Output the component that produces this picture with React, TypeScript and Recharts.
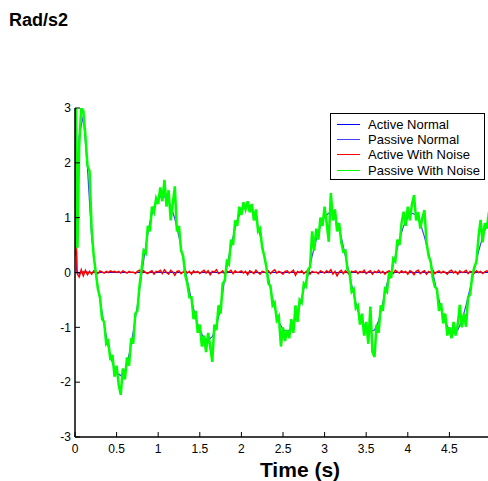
import React from 'react';
import { LineChart, Line, XAxis, YAxis, Legend } from 'recharts';

const FONT = '"Liberation Sans", Arial, Helvetica, sans-serif';

// Axis ticks
const xTicks = [0, 0.5, 1, 1.5, 2, 2.5, 3, 3.5, 4, 4.5, 5];
const xLabelTicks = [0, 0.5, 1, 1.5, 2, 2.5, 3, 3.5, 4, 4.5];
const yTicks = [-3, -2, -1, 0, 1, 2, 3];

// Series names / colours
const seriesNames = ['Active Normal', 'Passive Normal', 'Active With Noise', 'Passive With Noise'];
const seriesColors = ['#0000ff', '#4040ff', '#ff0000', '#00ff00'];

// Active Normal (time, value)
const activeNormalTime = [0, 0.02, 0.05, 0.1, 0.2, 5];
const activeNormalValues = [1.8, 0.03, -0.02, 0.01, 0, 0];

// Passive Normal, sampled every 0.05 s from t = 0
const passiveNormalStep = 0.05;
const passiveNormalValues = [
  0.3, 2.5, 2.85, 1.9, 0.65, -0.02, -0.5, -0.95, -1.35, -1.65,
  -1.83, -1.88, -1.78, -1.5, -1.08, -0.6, -0.05, 0.48, 0.92, 1.2,
  1.35, 1.4, 1.36, 1.22, 0.98, 0.65, 0.25, -0.15, -0.5, -0.82,
  -1.05, -1.2, -1.23, -1.17, -0.98, -0.65, -0.1, 0.3, 0.65, 0.95,
  1.13, 1.22, 1.22, 1.1, 0.85, 0.5, 0.1, -0.3, -0.65, -0.9,
  -1.04, -1.08, -1.02, -0.85, -0.6, -0.3, -0.05, 0.3, 0.6, 0.85,
  1.02, 1.08, 1.05, 0.9, 0.65, 0.3, -0.05, -0.4, -0.7, -0.9,
  -1.02, -1.07, -1.05, -0.88, -0.55, -0.2, -0.02, 0.3, 0.6, 0.85,
  1.0, 1.08, 1.05, 0.9, 0.65, 0.35, 0.0, -0.35, -0.65, -0.9,
  -1.05, -1.1, -1.05, -0.88, -0.6, -0.28, 0.05, 0.38, 0.65, 0.88,
  1.05,
];

// Active With Noise, sampled every 0.025 s from t = 0
const activeNoiseStep = 0.025;
const activeNoiseValues = [
  1.8, -0.02, -0.08, 0.05, -0.06, 0.04, -0.04, 0.02, -0.03, 0.03, 0.0, -0.02, 0.03, 0.01, -0.01, 0.02, 0.0, 0.03, 0.01, 0.02,
  0.0, 0.02, -0.01, 0.03, 0.01, -0.01, 0.02, 0.0, 0.01, -0.02, 0.02, 0.04, -0.01, 0.03, 0.0, -0.02, 0.01, 0.03, -0.03, 0.02,
  0.01, 0.04, -0.02, 0.05, 0.0, -0.03, 0.04, 0.01, -0.05, 0.02, 0.03, -0.02, 0.01, 0.04, -0.01, 0.02, -0.03, 0.03, 0.0, 0.02,
  -0.02, 0.01, 0.04, -0.01, 0.03, -0.04, 0.02, 0.01, 0.05, -0.02, 0.0, 0.03, -0.03, 0.02, 0.01, 0.04, -0.02, 0.03, 0.0, 0.01,
  0.03, -0.01, 0.02, -0.04, 0.03, 0.01, -0.02, 0.04, 0.0, -0.03, 0.02, 0.01, -0.01, 0.03, -0.02, 0.02, 0.05, -0.01, 0.02, 0.0,
  -0.03, 0.02, 0.03, -0.01, 0.01, 0.04, -0.05, 0.02, 0.0, 0.03, -0.02, 0.01, 0.04, -0.03, 0.02, 0.0, 0.01, -0.02, 0.03, 0.01,
  -0.01, 0.03, 0.0, 0.05, -0.03, 0.02, -0.06, 0.01, 0.04, -0.02, 0.03, 0.0, -0.04, 0.02, 0.01, 0.03, -0.02, 0.02, 0.0, 0.04,
  -0.02, 0.01, 0.03, -0.03, 0.02, 0.0, 0.04, -0.01, 0.02, -0.03, 0.01, 0.03, 0.0, -0.02, 0.04, 0.01, -0.01, 0.03, 0.0, 0.02,
  -0.03, 0.03, 0.01, -0.04, 0.02, 0.04, -0.02, 0.01, 0.03, -0.03, 0.02, 0.0, 0.04, -0.02, 0.01, 0.03, -0.01, 0.02, 0.0, -0.03,
  0.02, 0.04, -0.01, 0.02, -0.03, 0.03, 0.0, 0.01, 0.04, -0.02, 0.02, 0.01, -0.01, 0.03, 0.0, 0.02, -0.02, 0.01, 0.03, 0.0,
  0.01,
];

// Passive With Noise: a few early samples, then every 0.025 s from t = 0.05
const passiveNoiseHeadTime = [0, 0.012, 0.03];
const passiveNoiseHeadValues = [0.4, 3.0, 0.45];
const passiveNoiseStart = 0.05;
const passiveNoiseStep = 0.025;
const passiveNoiseValues = [
  2.3, 3.0, 2.95, 2.5, 1.95, 1.85, 0.8, 0.3, 0.0, -0.3, -0.45, -0.85, -0.9, -1.3, -1.25, -1.6, -1.5, -1.9,
  -1.7, -2.05, -2.23, -1.75, -1.95, -1.55, -1.7, -1.2, -1.3, -0.75, -0.7, -0.25, 0.05, 0.4, 0.35, 0.85, 0.75, 1.2, 1.1, 1.35,
  1.25, 1.55, 1.3, 1.69, 1.2, 1.5, 0.95, 1.25, 1.57, 0.75, 0.85, 0.4, 0.3, -0.05, -0.2, -0.45, -0.45, -0.85, -0.7, -1.1,
  -0.95, -1.35, -1.15, -1.45, -1.1, -1.35, -1.63, -0.95, -1.05, -0.6, -0.75, -0.2, -0.15, 0.2, 0.15, 0.6, 0.5, 0.95, 0.85, 1.2,
  1.05, 1.28, 1.15, 1.3, 1.1, 1.25, 0.95, 1.15, 0.75, 0.8, 0.45, 0.3, 0.1, -0.2, -0.25, -0.6, -0.55, -0.87, -0.8, -1.35,
  -1.0, -1.25, -1.05, -1.2, -0.85, -1.1, -0.6, -0.9, -0.5, -0.55, -0.2, -0.25, 0.05, 0.1, 0.75, 0.4, 0.8, 0.6, 1.0, 0.85,
  1.2, 0.9, 0.56, 1.45, 0.95, 1.15, 0.75, 0.9, 0.55, 0.38, 0.4, 0.05, 0.0, -0.35, -0.3, -0.65, -0.6, -0.95, -0.75, -1.15,
  -0.9, -1.3, -0.62, -1.45, -1.54, -0.95, -1.1, -0.6, -0.7, -0.3, -0.35, 0.0, -0.1, 0.25, 0.2, 0.6, 0.5, 0.9, 1.11, 0.85,
  1.2, 0.95, 1.25, 1.41, 0.95, 1.1, 0.8, 1.0, 1.14, 0.55, 0.3, 0.2, -0.1, -0.26, -0.3, -0.7, -0.56, -0.93, -0.75, -1.15,
  -1.0, -1.2, -0.9, -1.15, -0.95, -0.59, -1.0, -0.75, -0.99, -0.45, -0.4, -0.05, 0.1, 0.2, 0.65, 0.96, 0.55, 0.9, 0.8, 1.1,
  1.0,
];

// Build tables
const r3 = (n: number) => Math.round(n * 1000) / 1000;
const activeNormalData = activeNormalTime.map((t, i) => ({ t, v: activeNormalValues[i] }));
const passiveNormalData = passiveNormalValues.map((v, i) => ({ t: r3(i * passiveNormalStep), v }));
const activeNoiseData = activeNoiseValues.map((v, i) => ({ t: r3(i * activeNoiseStep), v }));
const passiveNoiseData = [
  ...passiveNoiseHeadTime.map((t, i) => ({ t, v: passiveNoiseHeadValues[i] })),
  ...passiveNoiseValues.map((v, i) => ({ t: r3(passiveNoiseStart + i * passiveNoiseStep), v })),
];

const TICK_LEN = 5;
const AXIS_STROKE = { stroke: '#000', strokeWidth: 1.5 };

const BottomTick = (props: any) => {
  const { x, y, payload } = props;
  const showLabel = xLabelTicks.includes(payload.value);
  return (
    <g>
      <line x1={x} x2={x} y1={y - 7} y2={y - 7 - TICK_LEN} stroke="#000" strokeWidth={1} />
      {showLabel && (
        <text x={x} y={y} dy="0.71em" textAnchor="middle" fontSize={12} fontFamily={FONT} fill="#000">
          {String(payload.value)}
        </text>
      )}
    </g>
  );
};

const TopTick = (props: any) => {
  const { x, y } = props;
  return <line x1={x} x2={x} y1={y} y2={y + TICK_LEN} stroke="#000" strokeWidth={1} />;
};

const LeftTick = (props: any) => {
  const { x, y, payload } = props;
  return (
    <g>
      <line x1={x + 4} x2={x + 4 + TICK_LEN} y1={y} y2={y} stroke="#000" strokeWidth={1} />
      <text x={x} y={y} dy="0.355em" textAnchor="end" fontSize={12} fontFamily={FONT} fill="#000">
        {String(payload.value)}
      </text>
    </g>
  );
};

const RightTick = (props: any) => {
  const { x, y } = props;
  return <line x1={x - TICK_LEN} x2={x} y1={y} y2={y} stroke="#000" strokeWidth={1} />;
};

const renderLegend = (props: any) => {
  const payload = [...(props.payload || [])].sort(
    (a: any, b: any) => seriesNames.indexOf(a.value) - seriesNames.indexOf(b.value)
  );
  return (
    <div
      style={{
        boxSizing: 'border-box',
        width: 155,
        height: 67,
        border: '1px solid #000',
        background: '#fff',
        paddingTop: 2.5,
        fontFamily: FONT,
        fontSize: 13,
        color: '#000',
      }}
    >
      {payload.map((e: any, i: number) => (
        <div key={i} style={{ display: 'flex', alignItems: 'center', height: 15.3 }}>
          <span
            style={{
              display: 'inline-block',
              width: 23,
              height: 1,
              background: seriesColors[seriesNames.indexOf(e.value)],
              marginLeft: 6,
              marginRight: 8,
            }}
          />
          <span style={{ lineHeight: '15px', whiteSpace: 'nowrap' }}>{e.value}</span>
        </div>
      ))}
    </div>
  );
};

export default function App() {
  return (
    <div
      style={{
        position: 'fixed',
        left: 0,
        top: 0,
        width: 488,
        height: 481,
        overflow: 'hidden',
        background: '#fff',
      }}
    >
      <div
        style={{
          position: 'absolute',
          left: 9,
          top: 11,
          fontFamily: FONT,
          fontWeight: 'bold',
          fontSize: 18,
          lineHeight: '18px',
          color: '#000',
          zIndex: 2,
        }}
      >
        Rad/s2
      </div>
      <LineChart width={500} height={481} margin={{ top: 108, right: 9, bottom: 0, left: 0 }}>
        <XAxis
          xAxisId="bottom"
          dataKey="t"
          type="number"
          orientation="bottom"
          domain={[0, 5]}
          ticks={xTicks}
          allowDataOverflow
          height={44}
          tickSize={0}
          tickMargin={7}
          tickLine={false}
          tick={BottomTick}
          axisLine={AXIS_STROKE}
          interval={0}
          label={{
            value: 'Time (s)',
            position: 'insideBottom',
            offset: 4,
            dx: 17,
            style: { fontFamily: FONT, fontWeight: 'bold', fontSize: 21, fill: '#000' },
          }}
        />
        <XAxis
          xAxisId="top"
          dataKey="t"
          type="number"
          orientation="top"
          domain={[0, 5]}
          ticks={xTicks}
          allowDataOverflow
          height={0}
          tickSize={0}
          tickMargin={0}
          tickLine={false}
          tick={TopTick}
          axisLine={AXIS_STROKE}
          interval={0}
        />
        <YAxis
          yAxisId="left"
          type="number"
          orientation="left"
          domain={[-3, 3]}
          ticks={yTicks}
          allowDataOverflow
          width={75}
          tickSize={0}
          tickMargin={4}
          tickLine={false}
          tick={LeftTick}
          axisLine={AXIS_STROKE}
          interval={0}
        />
        <YAxis
          yAxisId="right"
          type="number"
          orientation="right"
          domain={[-3, 3]}
          ticks={yTicks}
          allowDataOverflow
          width={0}
          tickSize={0}
          tickMargin={0}
          tickLine={false}
          tick={RightTick}
          axisLine={AXIS_STROKE}
          interval={0}
        />
        <Legend
          layout="horizontal"
          verticalAlign="middle"
          align="center"
          content={renderLegend}
          wrapperStyle={{ left: 330, top: 113, width: 155, height: 67 }}
        />
        <Line
          xAxisId="bottom"
          yAxisId="left"
          data={activeNormalData}
          dataKey="v"
          name={seriesNames[0]}
          stroke={seriesColors[0]}
          strokeWidth={1.2}
          dot={false}
          activeDot={false}
          type="linear"
          isAnimationActive={false}
        />
        <Line
          xAxisId="bottom"
          yAxisId="left"
          data={passiveNormalData}
          dataKey="v"
          name={seriesNames[1]}
          stroke={seriesColors[1]}
          strokeWidth={1.2}
          dot={false}
          activeDot={false}
          type="linear"
          isAnimationActive={false}
        />
        <Line
          xAxisId="bottom"
          yAxisId="left"
          data={activeNoiseData}
          dataKey="v"
          name={seriesNames[2]}
          stroke={seriesColors[2]}
          strokeWidth={1.5}
          dot={false}
          activeDot={false}
          type="linear"
          isAnimationActive={false}
        />
        <Line
          xAxisId="bottom"
          yAxisId="left"
          data={passiveNoiseData}
          dataKey="v"
          name={seriesNames[3]}
          stroke={seriesColors[3]}
          strokeWidth={2.5}
          dot={false}
          activeDot={false}
          type="linear"
          isAnimationActive={false}
        />
      </LineChart>
    </div>
  );
}
